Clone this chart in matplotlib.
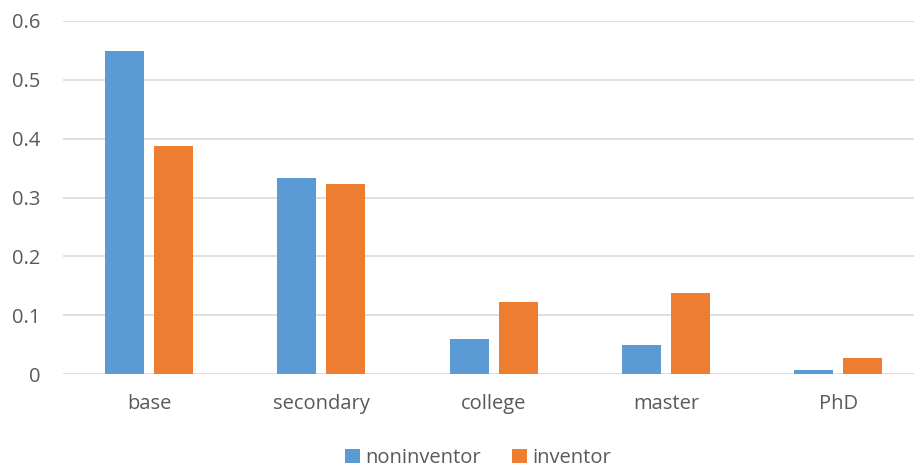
import matplotlib
matplotlib.use("Agg")
import matplotlib.pyplot as plt
import numpy as np

categories = ["base", "secondary", "college", "master", "PhD"]
noninventor = [0.549, 0.333, 0.060, 0.049, 0.007]
inventor = [0.387, 0.323, 0.122, 0.138, 0.028]
yticks = [0, 0.1, 0.2, 0.3, 0.4, 0.5, 0.6]
ytick_labels = ["0", "0.1", "0.2", "0.3", "0.4", "0.5", "0.6"]

plt.rcParams['font.family'] = ['Open Sans', 'DejaVu Sans']
W, H = 914, 472
fig = plt.figure(figsize=(W/100, H/100), dpi=100)
left, right = 63, 914
bottom, top = 374.3, 20.7
ax = fig.add_axes([left/W, (H-bottom)/H, (right-left)/W, (bottom-top)/H])

cat_px = 172.25
x = np.arange(len(categories))
bw = 39/cat_px
off = 24.5/cat_px
c1, c2 = "#5B9BD5", "#ED7D31"
ax.bar(x - off, noninventor, bw, color=c1, label="noninventor", zorder=3)
ax.bar(x + off, inventor, bw, color=c2, label="inventor", zorder=3)

ax.set_xlim(-0.5, -0.5 + (right-left)/cat_px)
ax.set_ylim(0, 0.6)
ax.set_yticks(yticks)
ax.set_yticklabels(ytick_labels)
ax.set_xticks(x)
ax.set_xticklabels(categories)
ax.grid(axis='y', color="#D9D9D9", linewidth=1.2, zorder=0)
for s in ax.spines.values():
    s.set_visible(False)
ax.tick_params(axis='both', length=0, labelsize=14.5, colors="#595959")
ax.tick_params(axis='y', pad=16.5)
ax.tick_params(axis='x', pad=14)

fig.legend(loc="center", bbox_to_anchor=(478/W, (H-458)/H), ncol=2, frameon=False,
           fontsize=14.5, handlelength=0.75, handleheight=0.75, columnspacing=1.5,
           handletextpad=0.3, labelcolor="#595959")

fig.savefig("out.png", dpi=100)
